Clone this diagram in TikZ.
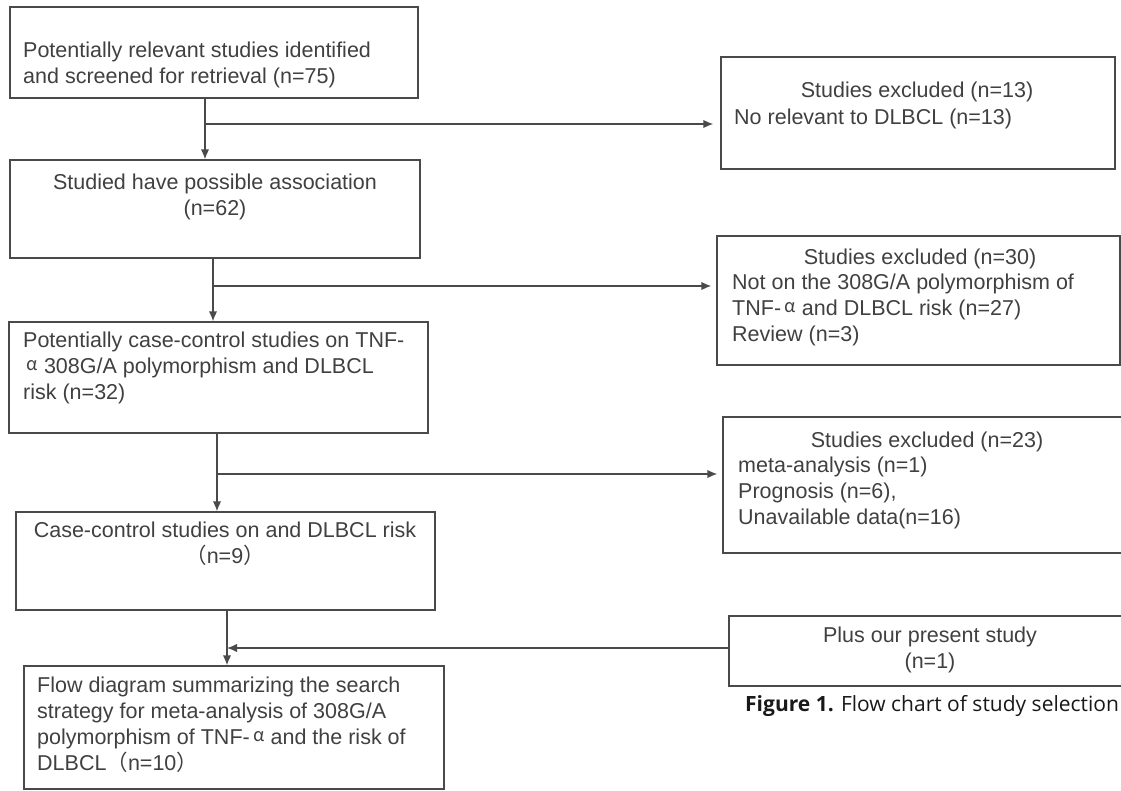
\documentclass[tikz,border=0pt]{standalone}
\usepackage{fontspec}
\setmainfont{Liberation Sans}
\newfontfamily\cjkfont{Noto Sans CJK SC}
\newfontfamily\capfont{Open Sans}
\usetikzlibrary{arrows.meta}
\definecolor{ink}{HTML}{404040}
\definecolor{edge}{HTML}{4a4a4a}
\newcommand{\alp}{\,\raisebox{0.3ex}{\cjkfont\fontsize{18}{18}\selectfont α}}
\newcommand{\lp}{{\cjkfont （}}
\newcommand{\rp}{{\cjkfont ）}}
\begin{document}
\begin{tikzpicture}[x=1pt,y=-1pt,
  box/.style={draw=edge, line width=1.4pt, inner sep=0pt},
  txt/.style={inner sep=0pt, text=ink, font=\fontsize{21.5}{26}\selectfont},
  arr/.style={draw=edge, line width=1.4pt, -{Latex[length=10pt,width=8.5pt]}},
  ln/.style={draw=edge, line width=1.4pt}]
\useasboundingbox (0,0) rectangle (1121,790);
\clip (0,0) rectangle (1121,790);
% boxes
\node[box, minimum width=408pt, minimum height=91pt] (A) at (214,52.5) {};
\node[box, minimum width=410pt, minimum height=98pt] (B) at (215,209) {};
\node[box, minimum width=394pt, minimum height=112pt] (R1) at (918,113) {};
\node[box, minimum width=403pt, minimum height=129pt] (R2) at (918.5,300.5) {};
\node[box, minimum width=419pt, minimum height=111pt] (C) at (218.5,377.5) {};
\node[box, minimum width=401pt, minimum height=136pt] (R3) at (923.5,485) {};
\node[box, minimum width=419pt, minimum height=98pt] (D) at (225.5,561) {};
\node[box, minimum width=402pt, minimum height=70pt] (R4) at (930,651) {};
\node[box, minimum width=420pt, minimum height=123pt] (E) at (234,727.5) {};
% texts
\node[txt, anchor=north west, align=left] (tA) at (23,42) {Potentially relevant studies identified\\and screened for retrieval (n=75)};
\node[txt, anchor=north, align=center] (tB) at (215,174) {Studied have possible association\\(n=62)};
\node[txt, anchor=north] (tR1h) at (917,82) {Studies excluded (n=13)};
\node[txt, anchor=north west] (tR1) at (734,109) {No relevant to DLBCL (n=13)};
\node[txt, anchor=north] (tR2h) at (920,249) {Studies excluded (n=30)};
\node[txt, anchor=north west, align=left] (tR2) at (732,274) {Not on the 308G/A polymorphism of\\TNF-\alp\ and DLBCL risk (n=27)\\Review (n=3)};
\node[txt, anchor=north west, align=left] (tC) at (23,332) {Potentially case-control studies on TNF-\\\alp\ 308G/A polymorphism and DLBCL\\risk (n=32)};
\node[txt, anchor=north] (tR3h) at (927,432) {Studies excluded (n=23)};
\node[txt, anchor=north west, align=left] (tR3) at (738,457) {meta-analysis (n=1)\\Prognosis (n=6),\\Unavailable data(n=16)};
\node[txt, anchor=north, align=center] (tD) at (225,522) {Case-control studies on and DLBCL risk\\\lp n=9\rp};
\node[txt, anchor=north west, align=left] (tE) at (37,677) {Flow diagram summarizing the search\\strategy for meta-analysis of 308G/A\\polymorphism of TNF-\alp\ and the risk of\\DLBCL\lp n=10\rp};
\node[txt, anchor=north, align=center] (tR4) at (930,627) {Plus our present study\\(n=1)};
\node[inner sep=0pt, anchor=base west, text=black!90, font=\capfont\fontsize{21}{24}\selectfont] (cap) at (745,711) {\textbf{Figure 1.} Flow chart of study selection};
% junctions
\coordinate (j1) at (205,124);
\coordinate (j2) at (213,286);
\coordinate (j3) at (217,474);
\coordinate (j4) at (227,648);
% connectors
\draw[arr] (A.south -| j1) -- (B.north -| j1);
\draw[arr, shorten >=7pt] (j1) -- (R1.west |- j1);
\draw[arr] (B.south -| j2) -- (C.north -| j2);
\draw[arr, shorten >=5pt] (j2) -- (R2.west |- j2);
\draw[arr] (C.south -| j3) -- (D.north -| j3);
\draw[arr, shorten >=5pt] (j3) -- (R3.west |- j3);
\draw[arr] (D.south -| j4) -- (E.north -| j4);
\draw[arr] (R4.west |- j4) -- (j4);
\end{tikzpicture}
\end{document}
